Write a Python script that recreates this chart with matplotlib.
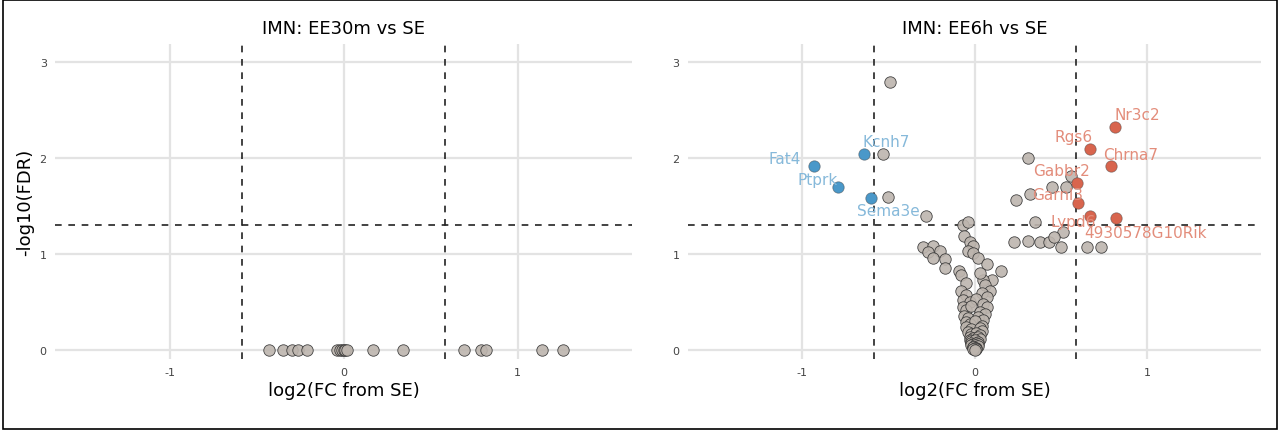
import matplotlib
matplotlib.use("Agg")
import matplotlib.pyplot as plt
from matplotlib.patches import Rectangle
plt.rcParams["axes.unicode_minus"] = False

# Left panel: EE30m vs SE (all FDR ~ 1)
left_x = [-0.43, -0.35, -0.30, -0.26, -0.21, -0.04, -0.02, -0.01, 0.0, 0.01, 0.02, 0.17, 0.34, 0.69, 0.79, 0.82, 1.14, 1.26]
left_y = [0.0] * len(left_x)

# Right panel: EE6h vs SE
up_genes = ["Nr3c2", "Rgs6", "Chrna7", "Gabbr2", "Garnl3", "Lypd6", "4930578G10Rik"]
up_x = [0.81, 0.67, 0.79, 0.59, 0.60, 0.67, 0.82]
up_y = [2.32, 2.10, 1.92, 1.74, 1.53, 1.40, 1.38]
down_genes = ["Fat4", "Kcnh7", "Ptprk", "Sema3e"]
down_x = [-0.93, -0.64, -0.79, -0.60]
down_y = [1.92, 2.04, 1.70, 1.59]
ns_x = [-0.49, -0.53, -0.50, -0.28, 0.31, 0.45, 0.53, 0.56, 0.32, 0.24, 0.35, 0.51, 0.23, 0.31, 0.38, 0.43, 0.46, 0.50, 0.65, 0.73,
        -0.30, -0.24, -0.27, -0.20, -0.24, -0.17, -0.17,
        -0.07, -0.04, -0.06, -0.03, -0.01, -0.04, -0.01, 0.02, 0.07, 0.15, 0.10, 0.05, -0.09,
        -0.08, -0.05, 0.03, 0.06, 0.09, -0.08, -0.05, 0.04, 0.07, -0.07, -0.03, 0.01, 0.05, 0.07,
        -0.07, -0.05, -0.02, 0.03, 0.06, -0.06, -0.04, 0.02, 0.05, -0.05, -0.03, 0.0, 0.04,
        -0.05, -0.02, 0.03, 0.04, -0.04, -0.02, 0.01, 0.03, -0.03, -0.01, 0.02, 0.03,
        -0.03, -0.02, 0.0, 0.02, -0.02, -0.01, 0.01, 0.02, -0.02, 0.0, 0.02, -0.01, -0.01, 0.01, 0.0, 0.01, -0.01, 0.0]
ns_y = [2.79, 2.04, 1.60, 1.40, 2.00, 1.70, 1.70, 1.81, 1.63, 1.56, 1.34, 1.23, 1.13, 1.14, 1.13, 1.13, 1.18, 1.08, 1.08, 1.07,
        1.08, 1.09, 1.02, 1.03, 0.96, 0.95, 0.86,
        1.30, 1.34, 1.19, 1.13, 1.09, 1.03, 1.01, 0.96, 0.90, 0.83, 0.73, 0.73, 0.82,
        0.78, 0.70, 0.80, 0.68, 0.62, 0.62, 0.58, 0.60, 0.55, 0.52, 0.50, 0.53, 0.48, 0.45,
        0.45, 0.42, 0.46, 0.40, 0.38, 0.36, 0.34, 0.35, 0.31, 0.29, 0.27, 0.30, 0.25,
        0.24, 0.22, 0.23, 0.20, 0.19, 0.17, 0.18, 0.16, 0.14, 0.13, 0.14, 0.12,
        0.11, 0.10, 0.11, 0.09, 0.08, 0.07, 0.08, 0.06, 0.05, 0.05, 0.04, 0.03, 0.03, 0.02, 0.02, 0.01, 0.01, 0.0]

FC = 0.585
FDR = 1.301
GREY = "#bdb5ae"
BLUE = "#4a98c9"
RED = "#d8654e"
BLUE_T = "#86b9da"
RED_T = "#e38d7b"

fig = plt.figure(figsize=(12.8, 4.31), dpi=100)
fig.patches.append(Rectangle((0.002, 0.003), 0.996, 0.994, transform=fig.transFigure,
                             fill=False, edgecolor="black", linewidth=1.2))
axL = fig.add_axes([0.043, 0.165, 0.451, 0.731])
axR = fig.add_axes([0.5375, 0.165, 0.448, 0.731])

def style(ax, title):
    ax.set_xlim(-1.66, 1.66)
    ax.set_ylim(-0.09, 3.19)
    ax.set_xticks([-1, 0, 1])
    ax.set_yticks([0, 1, 2, 3])
    ax.grid(True, color="#e3e3e3", linewidth=1.6)
    ax.set_axisbelow(True)
    for s in ax.spines.values():
        s.set_visible(False)
    ax.tick_params(length=0, labelsize=8, colors="#444444", pad=6)
    ax.axvline(-FC, color="#222222", ls=(0, (4, 4)), lw=1.2, zorder=1)
    ax.axvline(FC, color="#222222", ls=(0, (4, 4)), lw=1.2, zorder=1)
    ax.axhline(FDR, color="#222222", ls=(0, (4, 4)), lw=1.2, zorder=1)
    ax.set_title(title, fontsize=13, pad=8)
    ax.set_xlabel("log2(FC from SE)", fontsize=13, labelpad=3)

style(axL, "IMN: EE30m vs SE")
style(axR, "IMN: EE6h vs SE")
axL.set_ylabel("-log10(FDR)", fontsize=13)

kw = dict(s=68, edgecolors=(0.2, 0.2, 0.2, 0.45), linewidths=0.6, zorder=3)
axL.scatter(left_x, left_y, c=GREY, alpha=0.9, **kw)
axR.scatter(ns_x, ns_y, c=GREY, alpha=0.9, **kw)
axR.scatter(down_x, down_y, c=BLUE, **kw)
axR.scatter(up_x, up_y, c=RED, **kw)

down_off = {"Fat4": (-0.17, 0.08), "Kcnh7": (0.13, 0.13), "Ptprk": (-0.12, 0.08), "Sema3e": (0.10, -0.14)}
up_off = {"Nr3c2": (0.13, 0.13), "Rgs6": (-0.10, 0.12), "Chrna7": (0.11, 0.12), "Gabbr2": (-0.09, 0.13),
          "Garnl3": (-0.12, 0.09), "Lypd6": (-0.10, -0.06), "4930578G10Rik": (0.17, -0.15)}
for g, x, y in zip(down_genes, down_x, down_y):
    dx, dy = down_off[g]
    axR.text(x + dx, y + dy, g, color=BLUE_T, fontsize=11, ha="center", va="center", zorder=4)
for g, x, y in zip(up_genes, up_x, up_y):
    dx, dy = up_off[g]
    axR.text(x + dx, y + dy, g, color=RED_T, fontsize=11, ha="center", va="center", zorder=4)

fig.savefig("out.png", dpi=100)
